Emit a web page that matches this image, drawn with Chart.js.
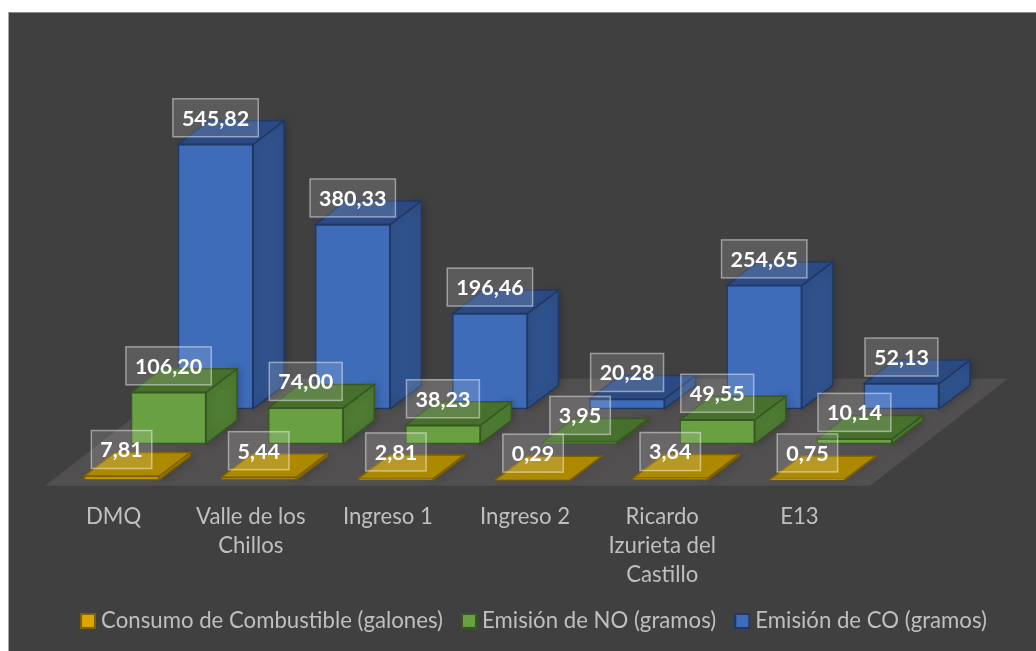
<!DOCTYPE html>
<html lang="es">
<head>
<meta charset="UTF-8">
<title>Consumo de combustible y emisiones</title>
<script src="https://cdn.jsdelivr.net/npm/chart.js"></script>
<style>
    * { margin: 0; padding: 0; box-sizing: border-box; }
    html, body { background: #fff; overflow: hidden; }
    .panel {
        position: absolute; left: 8px; top: 12px; width: 1028px; height: 639px;
        background: #404040; border-left: 1px solid #a6a6a6; border-top: 1px solid #8c8c8c;
    }
    canvas { position: absolute; left: 0; top: 0; }
</style>
</head>
<body>
<div class="panel"></div>
<canvas id="chart" width="1036" height="651"></canvas>
<script>
    const categories = ['DMQ', ['Valle de los', 'Chillos'], 'Ingreso 1', 'Ingreso 2', ['Ricardo', 'Izurieta del', 'Castillo'], 'E13'];
    const combustible = [7.81, 5.44, 2.81, 0.29, 3.64, 0.75];
    const emisionNO = [106.20, 74.00, 38.23, 3.95, 49.55, 10.14];
    const emisionCO = [545.82, 380.33, 196.46, 20.28, 254.65, 52.13];

    // how far each row sits from the front of the floor, and its box depth
    const rowShift = [[8, 0], [55, -36], [102, -71]];
    const depth = [31, -23.5];
    const frontColors = ['#dba600', '#68a042', '#3e6cb8'];
    const edgeColors = ['#7f6000', '#375623', '#1f3864'];
    const sideColors = ['#a58000', '#4f7d33', '#30528c'];
    const topColors = ['#ad8900', '#47702c', '#2b4a84'];

    function poly(ctx, pts, fill, stroke) {
        ctx.beginPath();
        pts.forEach((p, i) => i ? ctx.lineTo(p[0], p[1]) : ctx.moveTo(p[0], p[1]));
        ctx.closePath();
        ctx.fillStyle = fill;
        ctx.fill();
        ctx.lineWidth = 1.5;
        ctx.strokeStyle = stroke;
        ctx.stroke();
    }

    // legend squares as little canvases, so the text can sit closer to them than chart.js allows
    function marker(fill, edge) {
        const c = document.createElement('canvas');
        c.width = c.height = 16;
        const g = c.getContext('2d');
        g.fillStyle = fill;
        g.fillRect(0, 0, 16, 16);
        g.lineWidth = 2;
        g.strokeStyle = edge;
        g.strokeRect(1, 1, 14, 14);
        return c;
    }

    const fake3d = {
        id: 'fake3d',
        afterLayout(chart) {
            // tick labels get clipped to the axis box, so the axis stays tall and the legend moves up over it
            chart.legend.top -= 9;
            chart.legend.bottom -= 9;
        },
        beforeDatasetsDraw(chart) {
            const a = chart.chartArea, ctx = chart.ctx;
            ctx.save();
            ctx.beginPath();
            ctx.moveTo(a.left, a.bottom + 6);
            ctx.lineTo(a.right + 2, a.bottom + 6);
            ctx.lineTo(a.right + 140, a.bottom - 101);
            ctx.lineTo(a.left + 138, a.bottom - 101);
            ctx.closePath();
            ctx.fillStyle = '#514f4f';
            ctx.fill();
            ctx.restore();
        },
        beforeDatasetDraw(chart, args) {
            const ctx = chart.ctx, i = args.index, ds = chart.data.datasets[i];
            ctx.save();
            ctx.translate(rowShift[i][0], rowShift[i][1]);
            args.meta.data.forEach(bar => {
                const l = bar.x - bar.width / 2, r = bar.x + bar.width / 2;
                const dx = depth[0], dy = depth[1];
                ctx.shadowColor = 'rgba(0,0,0,0.3)';
                ctx.shadowBlur = 10;
                poly(ctx, [[r, bar.y], [r + dx, bar.y + dy], [r + dx, bar.base + dy], [r, bar.base]], sideColors[i], ds.borderColor);
                ctx.shadowColor = 'transparent';
                poly(ctx, [[l, bar.y], [l + dx, bar.y + dy], [r + dx, bar.y + dy], [r, bar.y]], topColors[i], ds.borderColor);
            });
        },
        afterDatasetDraw(chart) {
            chart.ctx.restore();
        },
        afterDatasetsDraw(chart) {
            const ctx = chart.ctx;
            ctx.save();
            ctx.font = 'bold 21.5px Lato';
            ctx.textAlign = 'center';
            ctx.textBaseline = 'middle';
            for (let i = 2; i >= 0; i--) {
                const ds = chart.data.datasets[i];
                chart.getDatasetMeta(i).data.forEach((bar, j) => {
                    const txt = ds.data[j].toFixed(2).replace('.', ',');
                    const w = ctx.measureText(txt).width + 18, h = 38;
                    const x = bar.x + rowShift[i][0], y = bar.y + rowShift[i][1] - 26.5;
                    ctx.fillStyle = 'rgba(255,255,255,0.14)';
                    ctx.fillRect(x - w / 2, y - h / 2, w, h);
                    ctx.lineWidth = 1.5;
                    ctx.strokeStyle = 'rgba(255,255,255,0.45)';
                    ctx.strokeRect(x - w / 2, y - h / 2, w, h);
                    ctx.fillStyle = '#fff';
                    ctx.fillText(txt, x, y + 1);
                });
            }
            ctx.restore();
        }
    };

    const markers = frontColors.map((c, i) => marker(c, edgeColors[i]));

    new Chart(document.getElementById('chart'), {
        type: 'bar',
        data: {
            labels: categories,
            datasets: [
                { label: 'Consumo de Combustible (galones)', data: combustible },
                { label: 'Emisión de NO (gramos)', data: emisionNO },
                { label: 'Emisión de CO (gramos)', data: emisionCO }
            ].map((d, i) => ({
                ...d, backgroundColor: frontColors[i], borderColor: edgeColors[i],
                borderWidth: 1.5, borderSkipped: false, barThickness: 75, grouped: false, clip: false
            }))
        },
        options: {
            responsive: false,
            animation: false,
            layout: { padding: { left: 37, top: 189 } },
            plugins: {
                tooltip: { enabled: false },
                legend: {
                    position: 'bottom',
                    onClick: null,
                    labels: {
                        color: '#bfbfbf', font: { family: 'Lato', size: 22.2 }, padding: 24,
                        usePointStyle: true, pointStyleWidth: 4,
                        generateLabels: chart => Chart.defaults.plugins.legend.labels.generateLabels(chart)
                            .map((it, i) => ({ ...it, pointStyle: markers[i] }))
                    }
                }
            },
            scales: {
                x: {
                    grid: { display: false },
                    border: { display: false },
                    ticks: { color: '#bfbfbf', font: { family: 'Lato', size: 22.2, lineHeight: 1.3 }, maxRotation: 0, autoSkip: false, padding: 15 },
                    afterFit(s) { s.height = 115; }
                },
                y: {
                    min: 0, max: 600,
                    grid: { display: false },
                    border: { display: false },
                    ticks: { display: false },
                    afterFit(s) { s.width = 8; }
                },
                y2: {
                    position: 'right',
                    grid: { display: false },
                    border: { display: false },
                    ticks: { display: false },
                    afterFit(s) { s.width = 168; }
                }
            }
        },
        plugins: [fake3d]
    });
</script>
</body>
</html>
